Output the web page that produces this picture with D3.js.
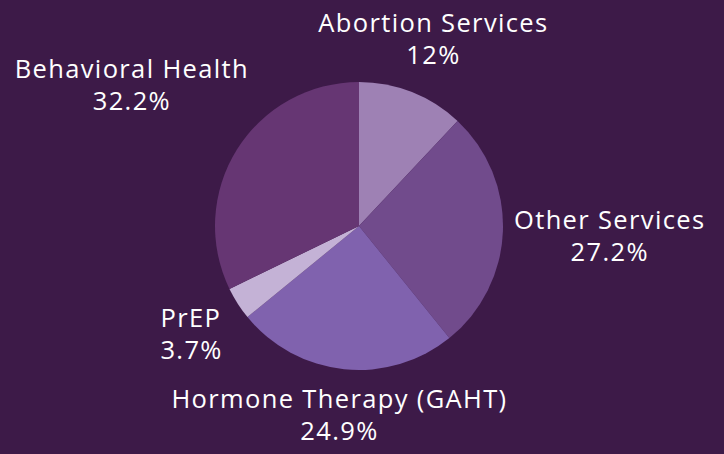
<!DOCTYPE html>
<html>
<head>
<meta charset="utf-8">
<script src="https://cdn.jsdelivr.net/npm/d3@7"></script>
<style>
  html, body { margin: 0; padding: 0; background: #3d1a48; }
  svg { display: block; }
  text { font-family: "Open Sans", "DejaVu Sans", sans-serif; fill: #ffffff; }
</style>
</head>
<body>
<svg id="chart" width="724" height="454"></svg>
<script>
const categories = ["Abortion Services", "Other Services", "Hormone Therapy (GAHT)", "PrEP", "Behavioral Health"];
const values = [12, 27.2, 24.9, 3.7, 32.2];
const valueLabels = ["12%", "27.2%", "24.9%", "3.7%", "32.2%"];
const colors = ["#9e81b4", "#714b8c", "#8062ae", "#c4b2d6", "#663673"];

const W = 724, H = 454;
const cx = 359, cy = 226, radius = 144, labelGap = 11;
const fontSize = 25.5, letterSpacing = 1.35, lineGap = 32;

const svg = d3.select("#chart");
svg.append("rect").attr("width", W).attr("height", H).attr("fill", "#3d1a48");

const data = categories.map((c, i) => ({ name: c, value: values[i], label: valueLabels[i], color: colors[i] }));
const pie = d3.pie().value(d => d.value).sort(null).startAngle(0).endAngle(2 * Math.PI);
const arcs = pie(data);
const arc = d3.arc().innerRadius(0).outerRadius(radius);

const g = svg.append("g").attr("transform", `translate(${cx},${cy})`);
g.selectAll("path.slice").data(arcs).join("path")
  .attr("class", "slice")
  .attr("d", arc)
  .attr("fill", d => d.data.color);

// labels placed radially, pushed out until the text box clears the circle
const labels = g.selectAll("g.lbl").data(arcs).join("g").attr("class", "lbl");
labels.each(function(d) {
  const sel = d3.select(this);
  const mid = (d.startAngle + d.endAngle) / 2;
  const ux = Math.sin(mid), uy = -Math.cos(mid);
  const narrow = d.data.name.length < 6;
  const t = sel.append("text")
    .attr("text-anchor", narrow ? "start" : "middle")
    .style("font-size", fontSize + "px")
    .style("letter-spacing", letterSpacing + "px");
  t.append("tspan").attr("x", 0).attr("dy", 0).text(d.data.name);
  t.append("tspan").attr("x", 0).attr("dy", lineGap).text(d.data.label);
  const bb = t.node().getBBox();
  const bcx = bb.x + bb.width / 2, bcy = bb.y + bb.height / 2;
  const hw = bb.width / 2, hh = bb.height / 2;
  const R = radius + labelGap;
  const dist = (s) => {
    const px = s * ux, py = s * uy;
    const gx = Math.max(0, Math.abs(px) - hw), gy = Math.max(0, Math.abs(py) - hh);
    return Math.hypot(gx, gy);
  };
  let lo = 0, hi = 600;
  for (let k = 0; k < 60; k++) {
    const m = (lo + hi) / 2;
    if (dist(m) < R) lo = m; else hi = m;
  }
  const s = hi;
  sel.attr("transform", `translate(${s * ux - bcx},${s * uy - bcy})`);
});
</script>
</body>
</html>
